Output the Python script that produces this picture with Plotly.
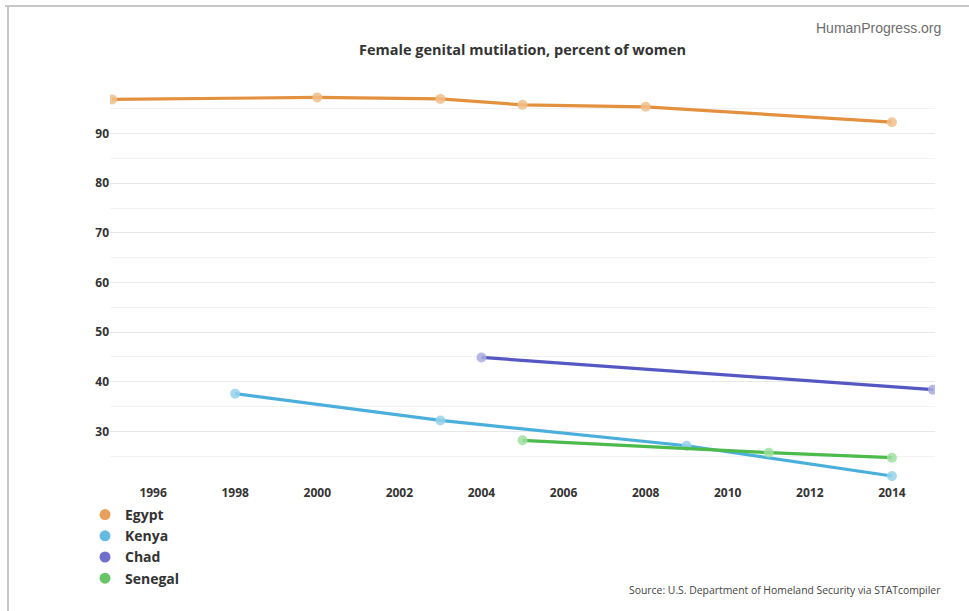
import plotly.graph_objects as go

# Survey years and prevalence (% of women aged 15-49)
egypt_years = [1995, 2000, 2003, 2005, 2008, 2014]
egypt_vals = [96.9, 97.3, 97.0, 95.8, 95.4, 92.3]

kenya_years = [1998, 2003, 2009, 2014]
kenya_vals = [37.6, 32.2, 27.1, 21.0]

chad_years = [2004, 2015]
chad_vals = [44.9, 38.4]

senegal_years = [2005, 2011, 2014]
senegal_vals = [28.2, 25.7, 24.7]

series = [
    ("Egypt", egypt_years, egypt_vals, "#E3913F", "rgba(240,190,140,0.85)"),
    ("Kenya", kenya_years, kenya_vals, "#4BAFDB", "rgba(150,210,235,0.85)"),
    ("Chad", chad_years, chad_vals, "#5557C2", "rgba(170,170,225,0.85)"),
    ("Senegal", senegal_years, senegal_vals, "#4CBB4C", "rgba(160,225,160,0.85)"),
]

x_ticks = list(range(1996, 2015, 2))
y_ticks = [30, 40, 50, 60, 70, 80, 90]
y_minor = [25, 35, 45, 55, 65, 75, 85, 95]

# Plot-area geometry in pixels, used for placing page decorations
W, H = 969, 611
L, R, T, B = 110, 34, 84, 130
PW, PH = W - L - R, H - T - B


def px_x(p):
    return (p - L) / PW


def px_y(p):
    return (H - B - p) / PH


fig = go.Figure()

for name, xs, ys, line_c, mark_c in series:
    fig.add_trace(go.Scatter(
        x=xs, y=ys, mode="lines+markers", name=name, showlegend=False,
        line=dict(color=line_c, width=3.2),
        marker=dict(color=mark_c, size=10, line=dict(width=0)),
        hoverinfo="x+y+name",
    ))

# Legend entries drawn as plain circles
for name, xs, ys, line_c, mark_c in series:
    fig.add_trace(go.Scatter(
        x=[None], y=[None], mode="markers", name=f"<b>{name}</b>", showlegend=True,
        marker=dict(color=line_c, size=11, opacity=0.85),
    ))

font_main = "Open Sans, Noto Sans, sans-serif"

fig.update_layout(
    width=W, height=H,
    margin=dict(l=L, r=R, t=T, b=B),
    paper_bgcolor="white", plot_bgcolor="white",
    font=dict(family=font_main, color="#333"),
    title=dict(
        text="<b>Female genital mutilation, percent of women</b>",
        x=0.5, xref="paper", xanchor="center",
        y=1 - 50 / H, yref="container", yanchor="middle",
        font=dict(size=14.5, color="#333", family=font_main),
    ),
    xaxis=dict(
        range=[1994.95, 2015.05],
        tickvals=x_ticks, ticktext=[f"<b>{v}</b>" for v in x_ticks],
        showgrid=False, zeroline=False, showline=False,
        ticks="outside", ticklen=1, tickcolor="rgba(0,0,0,0)",
        tickfont=dict(size=12, color="#333"),
    ),
    yaxis=dict(
        range=[20, 100],
        tickvals=y_ticks, ticktext=[f"<b>{v}</b>" for v in y_ticks],
        showgrid=True, gridcolor="#E8E8E8", gridwidth=1,
        zeroline=False, showline=False,
        tickfont=dict(size=12, color="#333"),
        minor=dict(tickvals=y_minor, showgrid=True, gridcolor="#F2F2F2", gridwidth=1),
    ),
    legend=dict(
        x=px_x(85), y=px_y(499), xanchor="left", yanchor="top",
        orientation="v", bgcolor="rgba(0,0,0,0)",
        font=dict(size=14, color="#333", family=font_main),
        itemwidth=30, tracegroupgap=0,
    ),
    hovermode="closest",
)

fig.add_annotation(
    text="HumanProgress.org", xref="paper", yref="paper",
    x=px_x(943), y=px_y(28), xanchor="right", yanchor="middle",
    showarrow=False,
    font=dict(size=14, color="#6E6E6E", family="Liberation Sans, Arial, sans-serif"),
)

fig.add_annotation(
    text="Source: U.S. Department of Homeland Security via STATcompiler",
    xref="paper", yref="paper",
    x=px_x(943), y=px_y(590), xanchor="right", yanchor="middle",
    showarrow=False,
    font=dict(size=10.4, color="#444", family=font_main),
)

# Frame lines along the top and left of the page
fig.add_shape(type="line", xref="paper", yref="paper",
              x0=px_x(5), x1=px_x(969), y0=px_y(6), y1=px_y(6),
              line=dict(color="#C8C8C8", width=2))
fig.add_shape(type="line", xref="paper", yref="paper",
              x0=px_x(8), x1=px_x(8), y0=px_y(6), y1=px_y(611),
              line=dict(color="#C8C8C8", width=2))

fig.write_html("out.html")
